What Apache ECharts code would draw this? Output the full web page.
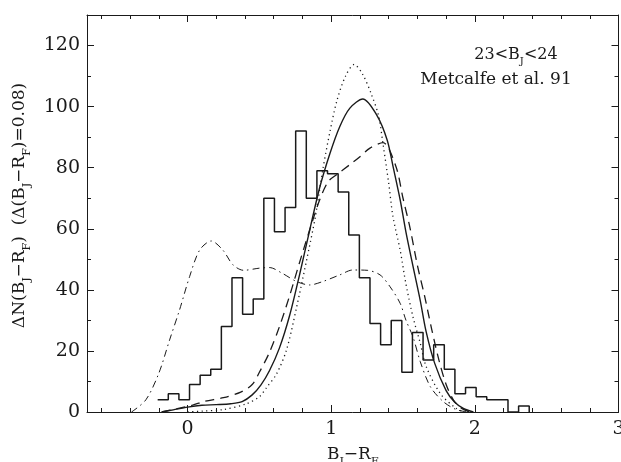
<!DOCTYPE html>
<html>
<head>
<meta charset="utf-8">
<script src="https://cdn.jsdelivr.net/npm/echarts@6/dist/echarts.min.js"></script>
<style>
html,body{margin:0;padding:0;background:#fff;}
#main{width:621px;height:462px;}
</style>
</head>
<body>
<div id="main"></div>
<script>
// histogram of observed counts, equal bins starting at binStart
var binStart = -0.208;
var binWidth = 0.0739;
var counts = [4,6,4,9,12,14,28,44,32,37,70,59,67,92,70,79,78,72,58,44,
              29,22,30,13,26,17,22,14,6,8,5,4,4,0,2];

// model curves  [B_J-R_F, dN]
var solidCurve = [[-0.18,0],[-0.10,0.7],[0.0,1.6],[0.10,2.2],[0.20,2.4],[0.30,2.7],[0.38,3.4],
  [0.45,5.6],[0.51,8.8],[0.57,13.5],[0.64,21],[0.71,31.5],[0.78,45],[0.85,59.5],[0.92,73.5],
  [0.99,84.5],[1.06,93.5],[1.13,99.5],[1.22,102.5],[1.32,97],[1.39,89],[1.43,80.5],[1.48,69.5],
  [1.52,59],[1.57,47.6],[1.62,36.5],[1.66,26.5],[1.72,16],[1.80,7],[1.86,3.2],[1.92,1.2],[1.99,0]];

var dottedCurve = [[0.0,0],[0.10,0.3],[0.25,0.8],[0.41,2.7],[0.50,5],[0.55,8],[0.62,12.5],
  [0.69,20.5],[0.76,34.5],[0.83,50],[0.89,64],[0.94,79],[0.99,91.5],[1.04,102],[1.10,110],
  [1.16,113.8],[1.22,110.5],[1.28,104],[1.33,97],[1.36,88],[1.40,75],[1.43,64],[1.48,53],
  [1.52,42],[1.57,31],[1.62,22.5],[1.66,15],[1.76,6],[1.87,1.2],[1.93,0]];

var dashedCurve = [[-0.18,0],[-0.09,0.9],[0.04,2.3],[0.12,3.5],[0.25,4.7],[0.37,6.5],[0.45,9],
  [0.50,13],[0.57,19.5],[0.64,28],[0.71,38],[0.78,49],[0.85,59.6],[0.92,69.5],[0.98,75.5],
  [1.04,77.8],[1.13,81],[1.20,83.6],[1.27,86.4],[1.36,88.2],[1.45,80.5],[1.50,70],[1.55,60],
  [1.60,48],[1.65,38],[1.70,27],[1.75,17],[1.80,9],[1.85,4],[1.90,1.5],[1.96,0]];

var dashDotCurve = [[-0.39,0],[-0.29,4],[-0.20,12.7],[-0.125,23.6],[-0.056,33.4],[0.014,44.3],
  [0.084,53],[0.165,56],[0.246,53],[0.316,48.2],[0.39,46.4],[0.50,47.1],[0.57,47.3],[0.66,45.4],
  [0.76,42.7],[0.85,41.6],[0.94,42.7],[1.06,44.9],[1.15,46.5],[1.25,46.4],[1.34,44.9],[1.41,41],
  [1.48,35.6],[1.52,30.1],[1.57,24.5],[1.62,16.5],[1.69,8.3],[1.78,3.4],[1.87,0.8],[1.95,0]];

// ticks and labels
var xLabelValues = [0,1,2,3];
var xMinorTicks = [-0.6,-0.4,-0.2,0.2,0.4,0.6,0.8,1.2,1.4,1.6,1.8,2.2,2.4,2.6,2.8];
var yLabelValues = [0,20,40,60,80,100,120];
var yMinorTicks = [10,30,50,70,90,110];

var ink = '#1a1a1a';
var serif = '"DejaVu Serif", serif';

// step outline of the histogram
var histPts = [];
for (var i = 0; i < counts.length; i++) {
  var x0 = binStart + i * binWidth;
  histPts.push([x0, counts[i]], [x0 + binWidth, counts[i]]);
}
histPts.push([binStart + counts.length * binWidth, 0]);

var nameRich = {
  n: {fontFamily: serif, fontSize: 17, lineHeight: 26, color: ink},
  s: {fontFamily: serif, fontSize: 11, verticalAlign: 'bottom', color: ink}
};

function xAx(pos, ticks, len, line, labels) {
  return {
    type: 'value', min: -0.7, max: 3, position: pos,
    axisLine: {show: line, onZero: false, lineStyle: {color: ink, width: 1}},
    axisTick: {show: true, inside: true, length: len, customValues: ticks, lineStyle: {color: ink}},
    axisLabel: {show: labels, customValues: xLabelValues, margin: 8,
      fontFamily: serif, fontSize: 19, color: ink},
    splitLine: {show: false}
  };
}
function yAx(pos, ticks, len, line, labels) {
  return {
    type: 'value', min: 0, max: 130, position: pos,
    axisLine: {show: line, onZero: false, lineStyle: {color: ink, width: 1}},
    axisTick: {show: true, inside: true, length: len, customValues: ticks, lineStyle: {color: ink}},
    axisLabel: {show: labels, customValues: yLabelValues, margin: 7,
      fontFamily: serif, fontSize: 19, color: ink},
    splitLine: {show: false}
  };
}

var xMain = xAx('bottom', xLabelValues, 7, true, true);
xMain.name = '{n|B}{s|J}{n|\u2212R}{s|F}';
xMain.nameLocation = 'middle';
xMain.nameGap = 30;
xMain.nameTextStyle = {rich: nameRich};

var yMain = yAx('left', yLabelValues, 7, true, true);
yMain.name = '{n|\u0394N(B}{s|J}{n|\u2212R}{s|F}{n|)  (\u0394(B}{s|J}{n|\u2212R}{s|F}{n|)=0.08)}';
yMain.nameLocation = 'middle';
yMain.nameGap = 52;
yMain.nameTextStyle = {rich: nameRich, padding: [0, 0, 0, 16]};

function curve(data, type, width) {
  return {
    type: 'line', data: data, symbol: 'none', smooth: 0.3,
    xAxisIndex: 0, yAxisIndex: 0,
    lineStyle: {color: ink, width: width, type: type}
  };
}

var chart = echarts.init(document.getElementById('main'));
chart.setOption({
  animation: false,
  backgroundColor: '#fff',
  grid: {left: 87, right: 2.5, top: 15, bottom: 50, containLabel: false, outerBoundsMode: 'none'},
  xAxis: [
    xMain,
    xAx('bottom', xMinorTicks, 4, false, false),
    xAx('top', xLabelValues, 7, true, false),
    xAx('top', xMinorTicks, 4, false, false)
  ],
  yAxis: [
    yMain,
    yAx('left', yMinorTicks, 4, false, false),
    yAx('right', yLabelValues, 7, true, false),
    yAx('right', yMinorTicks, 4, false, false)
  ],
  graphic: [
    {type: 'text', x: 516, y: 55, style: {
      text: '{n|23<B}{s|J}{n|<24}', align: 'center', verticalAlign: 'middle',
      rich: {
        n: {fontFamily: serif, fontSize: 16, lineHeight: 23, fill: ink},
        s: {fontFamily: serif, fontSize: 10, verticalAlign: 'bottom', fill: ink}
      }}},
    {type: 'text', x: 496, y: 80, style: {
      text: 'Metcalfe et al. 91', align: 'center', verticalAlign: 'middle',
      fontFamily: serif, fontSize: 17, fill: ink}}
  ],
  series: [
    {type: 'line', data: histPts, symbol: 'none', xAxisIndex: 0, yAxisIndex: 0,
     lineStyle: {color: ink, width: 1.5}},
    curve(solidCurve, 'solid', 1.4),
    curve(dottedCurve, [1.2, 3.5], 1.3),
    curve(dashedCurve, [9, 6], 1.3),
    curve(dashDotCurve, [7, 4, 1.5, 4], 1)
  ]
});
</script>
</body>
</html>
